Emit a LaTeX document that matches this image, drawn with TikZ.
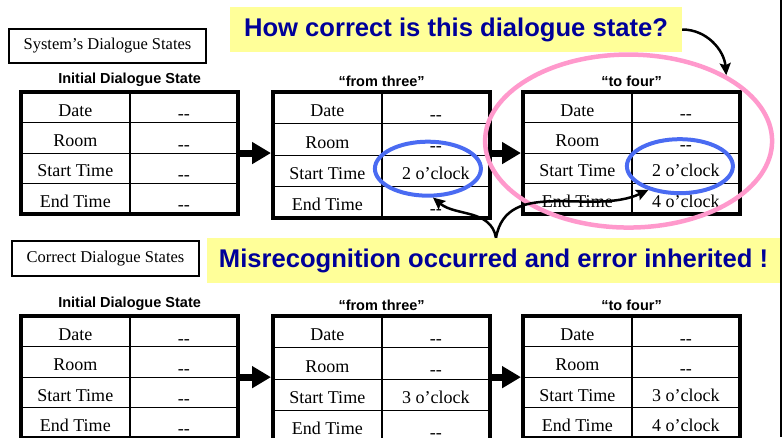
\documentclass[tikz,border=0pt]{standalone}
\usepackage{fontspec}
\setmainfont{Liberation Serif}
\newfontfamily\headfont{Liberation Sans}
\usepackage{tikz}
\usetikzlibrary{arrows.meta, positioning, calc, fit, shapes.geometric}
\definecolor{notefill}{HTML}{FFFF99}
\definecolor{noteink}{HTML}{000099}
\definecolor{ringblue}{HTML}{4A6BF2}
\definecolor{ringpink}{HTML}{FF99CC}
\newcommand{\nodata}{\raisebox{-.2em}{-{}-}}
\tikzset{
  cellbox/.style  = {draw=black, line width=1.1pt, inner sep=0pt},
  framebox/.style = {draw=black, line width=4pt, inner sep=0pt},
  notebox/.style  = {fill=notefill, text=noteink, inner sep=0pt},
}

\begin{document}
\begin{tikzpicture}[
    x=1pt, y=1pt,
    cell/.style ={cellbox, anchor=north west, minimum width=107.5pt,
            text height=17.4pt, text depth=0pt,
            font=\fontsize{18}{20}\selectfont},
    head/.style ={font=\headfont\bfseries\fontsize{14.5}{16}\selectfont, inner sep=0pt},
    tag/.style  ={draw, line width=1.2pt, minimum height=34pt, inner sep=0pt,
            font=\fontsize{16.5}{18}\selectfont},
    note/.style ={notebox, minimum height=45pt,
            font=\headfont\bfseries\fontsize{25.6}{28}\selectfont},
    flow/.style ={-{Triangle[length=19pt, width=21pt]}, line width=7pt},
    ring/.style ={ellipse, line width=4pt, inner sep=0pt},
    pick/.style ={-{Stealth[length=12pt, width=11pt, inset=2pt]}, line width=2.5pt},
  ]
  \useasboundingbox (0,0) rectangle (784,-437);
  \clip (0,0) rectangle (784,-437);

  %% --- Dialogue-state tables (system row on top, correct row below) ------
  \foreach \tid/\tx/\ty/\rh/\hd/\rows in {
      sa/21/92/30.25/Initial Dialogue State/{Date/\nodata,Room/\nodata,Start Time/\nodata,End Time/\nodata},
      sb/273/92/31.25/“from three”/{Date/\nodata,Room/\nodata,Start Time/2 o'clock,End Time/\nodata},
      sc/523/92/30.25/“to four”/{Date/\nodata,Room/\nodata,Start Time/2 o'clock,End Time/4 o'clock},
      ca/21/316/30.3/Initial Dialogue State/{Date/\nodata,Room/\nodata,Start Time/\nodata,End Time/\nodata},
      cb/273/316/31.25/“from three”/{Date/\nodata,Room/\nodata,Start Time/3 o'clock,End Time/\nodata},
      cc/523/316/30.3/“to four”/{Date/\nodata,Room/\nodata,Start Time/3 o'clock,End Time/4 o'clock}%
  }{
    \foreach \lbl/\val [count=\r] in \rows {
      \node[cell, minimum height=\rh pt] (\tid-\r-l) at (\tx, {-\ty-(\r-1)*\rh}) {\lbl};
      \node[cell, minimum height=\rh pt] (\tid-\r-v) at (\tid-\r-l.north east) {\val};
    }
    \node[framebox, fit=(\tid-1-l)(\tid-4-v)] (\tid) {};
    \node[head, above=3pt of \tid] (\tid-h) {\hd};
  }

  %% --- Turn-to-turn arrows ----------------------------------------------
  \draw[flow] (sa.east) -- (sa.east -| sb.west);
  \draw[flow] (sc.west -| sb.east) -- (sc.west);
  \draw[flow] (ca.east) -- (ca.east -| cb.west);
  \draw[flow] (cc.west -| cb.east) -- (cc.west);

  %% --- Section tags -----------------------------------------------------
  \node[tag, minimum width=197pt] (sys) at (107.5,-46) {System's Dialogue States};
  \node[tag, minimum width=187pt, minimum height=35pt] (cor) at (105.5,-258.5)
  {Correct Dialogue States};

  %% --- Highlights: wrong start time, and the state in question ----------
  \node[ring, draw=ringblue, minimum width=106pt, minimum height=54pt] (sb-ring)
  at ([xshift=-8pt, yshift=2pt]sb-3-v.center) {};
  \node[ring, draw=ringblue, minimum width=106pt, minimum height=54pt] (sc-ring)
  at ([xshift=-6pt, yshift=2pt]sc-3-v.center) {};
  \node[ring, draw=ringpink, line width=4.5pt, minimum width=287pt,
        minimum height=173pt] (focus) at ([xshift=-3pt, yshift=12pt]sc.center) {};

  %% --- Callouts ---------------------------------------------------------
  \node[note, minimum width=452pt] (hq) at (456,-29.5) {How correct is this dialogue state?};
  \node[note, minimum width=573pt] (hm) at (493.5,-260.5)
  {Misrecognition occurred and error inherited !};

  \draw[pick] (hq.east) to[out=0, in=95] (focus.34);
  % both branches leave from one point on the lower callout
  \coordinate (cusp) at ([xshift=2.5pt]hm.north);
  \draw[pick] (cusp) to[out=100, in=-40] (sb-ring.280);
  \draw[pick] (cusp) to[out=80, in=205] (sc-ring.217);

  % page edge rule
  \draw[line width=1.3pt] (781,0) -- (781,-437);
\end{tikzpicture}
\end{document}
